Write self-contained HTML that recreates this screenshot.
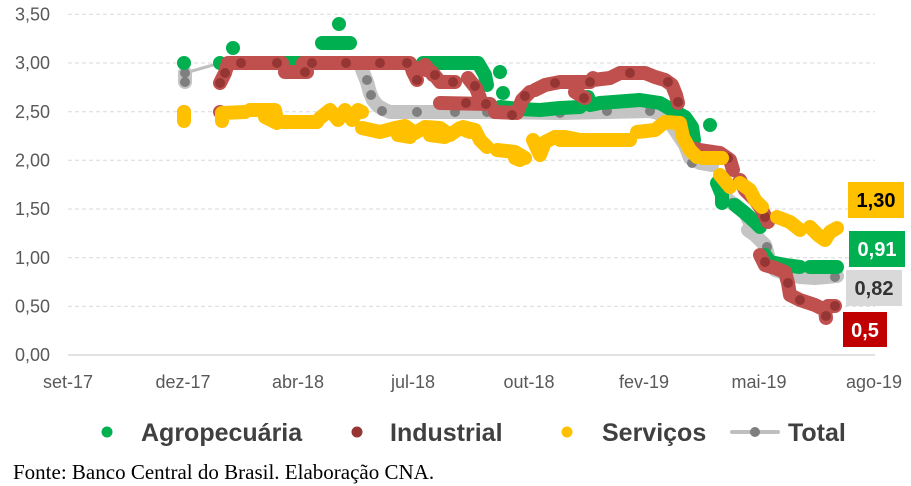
<!DOCTYPE html>
<html><head><meta charset="utf-8">
<style>
html,body{margin:0;padding:0;background:#fff;}
body{width:911px;height:486px;overflow:hidden;}
svg{display:block;}
.ax{font-family:"Liberation Sans",sans-serif;font-size:18px;fill:#595959;}
.lg{font-family:"Liberation Sans",sans-serif;font-size:25px;font-weight:bold;fill:#404040;}
.lb{font-family:"Liberation Sans",sans-serif;font-size:20px;font-weight:bold;}
.src{font-family:"Liberation Serif",serif;font-size:21px;fill:#000;}
.g{fill:none;stroke:#00B050;stroke-width:14;stroke-linecap:round;stroke-linejoin:round;}
.r{fill:none;stroke:#C0504D;stroke-width:14;stroke-linecap:round;stroke-linejoin:round;}
.y{fill:none;stroke:#FFC000;stroke-width:14;stroke-linecap:round;stroke-linejoin:round;}
.t{fill:none;stroke:#C4C4C4;stroke-width:14;stroke-linecap:round;stroke-linejoin:round;}
.tl{fill:none;stroke:#BFBFBF;stroke-width:3;}
</style></head>
<body>
<svg width="911" height="486" viewBox="0 0 911 486" xmlns="http://www.w3.org/2000/svg">
<g stroke="#D9D9D9" stroke-width="1" stroke-dasharray="4,3">
<line x1="68" y1="14.3" x2="875" y2="14.3"/>
<line x1="68" y1="63" x2="875" y2="63"/>
<line x1="68" y1="111.7" x2="875" y2="111.7"/>
<line x1="68" y1="160.3" x2="875" y2="160.3"/>
<line x1="68" y1="209" x2="875" y2="209"/>
<line x1="68" y1="257.7" x2="875" y2="257.7"/>
<line x1="68" y1="306.3" x2="875" y2="306.3"/>
</g>
<line x1="68" y1="355" x2="875" y2="355" stroke="#D9D9D9" stroke-width="1.5"/>
<g class="ax" text-anchor="end">
<text x="50" y="20.5">3,50</text>
<text x="50" y="69">3,00</text>
<text x="50" y="118">2,50</text>
<text x="50" y="166.5">2,00</text>
<text x="50" y="215">1,50</text>
<text x="50" y="264">1,00</text>
<text x="50" y="312.5">0,50</text>
<text x="50" y="361">0,00</text>
</g>
<g class="ax" text-anchor="middle">
<text x="68" y="388">set-17</text>
<text x="183" y="388">dez-17</text>
<text x="298" y="388">abr-18</text>
<text x="413" y="388">jul-18</text>
<text x="529" y="388">out-18</text>
<text x="644" y="388">fev-19</text>
<text x="759" y="388">mai-19</text>
<text x="874" y="388">ago-19</text>
</g>

<!-- Total -->
<polyline class="tl" points="185,73 220,63 360,63 365,72 368,82 370,92 373,100 378,105 385,110 390,112 490,112 560,112 650,111 665,115 675,130 685,145 690,158 700,163 712,165 720,185 728,200 735,205 745,225 755,235 765,245 770,260 775,270 790,275 800,277 815,278 837,276"/>
<path class="t" d="M185,73 L185,82 M360,63 L363,72 367,82 370,93 373,100 378,106 385,110 390,112 L490,112 L560,113 650,111 M650,111 L665,115 675,130 685,145 690,158 700,163 712,165 M720,188 L728,200 735,205 M748,230 L755,235 765,245 770,262 775,270 790,275 800,277 815,278 837,276"/>
<g fill="#7F7F7F">
<circle cx="185" cy="73" r="5"/><circle cx="185" cy="82" r="5"/>
<circle cx="367" cy="80" r="5"/><circle cx="371" cy="95" r="5"/><circle cx="382" cy="111" r="5"/>
<circle cx="417" cy="112" r="5"/><circle cx="455" cy="112" r="5"/><circle cx="487" cy="112" r="5"/>
<circle cx="560" cy="113" r="5"/><circle cx="607" cy="111" r="5"/><circle cx="650" cy="111" r="5"/>
<circle cx="692" cy="163" r="5"/><circle cx="732" cy="203" r="5"/><circle cx="767" cy="247" r="5"/>
<circle cx="835" cy="277" r="5"/>
</g>

<!-- Agropecuaria -->
<path class="g" d="M184,63 L184,63 M220,63 L220,63 M233,48 L233,48 M283,63 L303,63 M322,43 L350,43 M339,24 L339,24 M423,63 L478,63 L485,75 L487,85 M500,72 L500,72 M503,93 L503,93 M500,107 L520,109 540,110 560,108 580,107 588,97 590,105 600,103 640,100 660,103 672,110 685,117 692,127 694,140 M710,125 L710,125 M717,183 L722,195 722,203 M735,205 L745,213 755,222 760,227 M765,255 L770,262 785,265 800,267 M810,267 L837,267"/>

<!-- Industrial -->
<path class="r" d="M184,112 L184,112 M220,112 L220,112 M220,83 L225,73 228,63 M228,63 L282,63 M285,72 L307,72 M303,63 L410,63 L413,72 417,80 M420,68 L432,72 440,82 455,82 M425,65 L433,75 M440,103 L490,104 M468,78 L476,88 480,98 M495,112 L517,113 522,100 530,92 M535,90 L545,85 560,82 575,82 590,82 593,78 M575,92 L585,98 M593,80 L610,78 620,73 645,73 655,77 665,80 672,85 676,95 678,103 M690,148 L700,150 720,153 730,160 733,170 M740,180 L745,190 755,200 762,210 768,222 M760,255 L765,265 775,268 785,272 788,283 790,295 800,300 815,305 825,310 826,318 M828,306 L835,306"/>
<g fill="#963634">
<circle cx="220" cy="83" r="5"/><circle cx="225" cy="73" r="5"/>
<circle cx="241" cy="63" r="5"/><circle cx="277" cy="63" r="5"/><circle cx="305" cy="72" r="5"/>
<circle cx="312" cy="63" r="5"/><circle cx="346" cy="63" r="5"/><circle cx="380" cy="63" r="5"/><circle cx="407" cy="63" r="5"/>
<circle cx="417" cy="80" r="5"/><circle cx="435" cy="75" r="5"/><circle cx="453" cy="82" r="5"/>
<circle cx="466" cy="103" r="5"/><circle cx="475" cy="86" r="5"/><circle cx="486" cy="104" r="5"/>
<circle cx="512" cy="115" r="5"/><circle cx="525" cy="96" r="5"/><circle cx="555" cy="83" r="5"/><circle cx="584" cy="98" r="5"/>
<circle cx="590" cy="82" r="5"/><circle cx="630" cy="73" r="5"/><circle cx="668" cy="82" r="5"/><circle cx="678" cy="102" r="5"/>
<circle cx="728" cy="158" r="5"/><circle cx="765" cy="217" r="5"/><circle cx="765" cy="262" r="5"/>
<circle cx="788" cy="283" r="5"/><circle cx="800" cy="300" r="5"/><circle cx="826" cy="316" r="5"/><circle cx="835" cy="306" r="5"/>
</g>

<!-- Servicos -->
<path class="y" d="M184,112 L184,121 M222,113 L222,121 M222,113 L245,112 M250,110 L275,110 277,120 M265,117 L277,123 M283,122 L317,122 M320,118 L330,110 338,120 345,110 352,120 358,110 362,112 M362,128 L380,132 395,128 405,126 415,133 425,127 440,128 450,135 460,128 470,132 M398,135 L410,137 M430,135 L445,137 M463,127 L475,130 480,140 487,147 M497,150 L515,152 525,158 M515,158 L520,160 M533,140 L540,155 545,142 555,137 565,137 580,140 M560,140 L630,140 M637,132 L655,130 665,122 680,123 683,137 690,150 697,157 M703,158 L722,158 M720,175 L730,187 M740,183 L750,190 755,200 762,207 M777,217 L790,222 800,230 M810,227 L818,235 825,240 830,232 837,228"/>

<!-- value labels -->
<rect x="848" y="182" width="56" height="36" fill="#FFC000"/>
<text class="lb" x="876" y="207" text-anchor="middle" fill="#000">1,30</text>
<rect x="849" y="231" width="56" height="36" fill="#00B050"/>
<text class="lb" x="877" y="256" text-anchor="middle" fill="#fff">0,91</text>
<rect x="846" y="270" width="56" height="36" fill="#D9D9D9"/>
<text class="lb" x="874" y="295" text-anchor="middle" fill="#333">0,82</text>
<rect x="843" y="312" width="44" height="35" fill="#C00000"/>
<text class="lb" x="865" y="337" text-anchor="middle" fill="#fff">0,5</text>

<!-- legend -->
<circle cx="107" cy="432" r="5.5" fill="#00B050"/>
<text class="lg" x="141" y="441">Agropecuária</text>
<circle cx="357" cy="432" r="5.5" fill="#963634"/>
<text class="lg" x="390" y="441">Industrial</text>
<circle cx="567" cy="432" r="5.5" fill="#FFC000"/>
<text class="lg" x="602" y="441">Serviços</text>
<line x1="732" y1="432" x2="778" y2="432" stroke="#BFBFBF" stroke-width="4" stroke-linecap="round"/>
<circle cx="755" cy="432" r="5" fill="#7F7F7F"/>
<text class="lg" x="788" y="441">Total</text>

<text class="src" x="13" y="479">Fonte: Banco Central do Brasil. Elaboração CNA.</text>
</svg>
</body></html>
